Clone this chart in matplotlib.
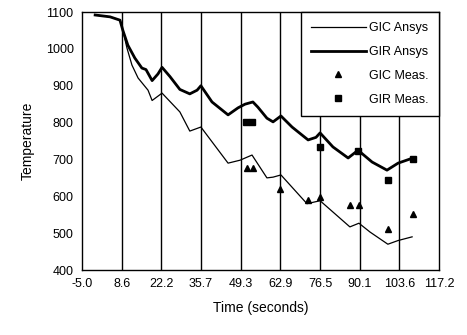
import matplotlib
matplotlib.use("Agg")
import matplotlib.pyplot as plt

plt.rcParams['font.family'] = ['Liberation Sans', 'DejaVu Sans']

# x tick positions / labels (seconds)
time_ticks = [-5.0, 8.6, 22.2, 35.7, 49.3, 62.9, 76.5, 90.1, 103.6, 117.2]

# GIR Ansys (thick line)
gir_t = [-0.5, 4.6, 8.0, 9.0, 10.7, 13.1, 15.5, 16.9, 19.0, 21.0, 22.4, 25.1,
         28.5, 31.9, 34.4, 35.7, 39.5, 45.0, 48.4, 50.8, 53.5, 55.2, 58.3,
         60.4, 63.1, 66.9, 72.4, 75.1, 76.5, 80.9, 86.1, 89.5, 94.3, 99.4,
         103.2, 108.3]
gir_T = [1092, 1087, 1078, 1050, 1010, 975, 948, 944, 914, 932, 950, 925,
         890, 878, 888, 900, 856, 821, 840, 850, 856, 842, 812,
         802, 818, 788, 753, 760, 772, 734, 704, 725, 693, 671,
         690, 704]

# GIC Ansys (thin line)
gic_t = [-0.5, 4.6, 8.0, 9.0, 10.4, 12.1, 14.2, 17.6, 19.0, 22.4, 28.5, 31.9,
         35.7, 45.0, 49.1, 53.2, 58.3, 60.4, 63.1, 72.0, 76.5, 86.7, 89.8,
         93.6, 99.7, 103.2, 108.0]
gic_T = [1092, 1087, 1078, 1050, 1002, 956, 921, 888, 860, 880, 829, 777,
         788, 690, 698, 712, 650, 652, 658, 580, 588, 517, 527,
         503, 470, 480, 490]

# measured points
gic_meas_t = [51.5, 53.5, 62.8, 72.4, 76.5, 86.7, 89.8, 99.7, 108.3]
gic_meas_T = [677, 677, 620, 590, 598, 577, 577, 510, 552]
gir_meas_t = [51.1, 53.2, 76.5, 89.5, 99.7, 108.3]
gir_meas_T = [802, 802, 734, 723, 644, 701]

fig = plt.figure(figsize=(4.67, 3.35), dpi=100)
ax = fig.add_axes([0.1756, 0.194, 0.7644, 0.770])

for t in time_ticks[1:-1]:
    ax.axvline(t, color='black', lw=1.0, zorder=1)

ax.plot(gic_t, gic_T, color='black', lw=0.9, label='GIC Ansys', zorder=3)
ax.plot(gir_t, gir_T, color='black', lw=2.0, label='GIR Ansys', zorder=3)
ax.plot(gic_meas_t, gic_meas_T, ls='none', marker='^', color='black',
        ms=5, label='GIC Meas.', zorder=4)
ax.plot(gir_meas_t, gir_meas_T, ls='none', marker='s', color='black',
        ms=4.5, label='GIR Meas.', zorder=4)

ax.set_xlim(-5.0, 117.2)
ax.set_ylim(400, 1100)
ax.set_xticks(time_ticks)
ax.set_xticklabels([f'{t:.1f}' for t in time_ticks])
ax.set_yticks(range(400, 1101, 100))
ax.tick_params(length=0, labelsize=9, pad=6)
for s in ax.spines.values():
    s.set_linewidth(1.0)

ax.set_xlabel('Time (seconds)', fontsize=10, labelpad=8)
ax.set_ylabel('Temperature', fontsize=10, labelpad=8)

leg = ax.legend(loc='upper right', fontsize=9, frameon=True, fancybox=False,
                edgecolor='black', borderaxespad=0, handlelength=4.4,
                handletextpad=0.3, labelspacing=0.95, borderpad=0.8,
                framealpha=1)
leg.get_frame().set_linewidth(1.0)

fig.savefig('out.png', dpi=100)
